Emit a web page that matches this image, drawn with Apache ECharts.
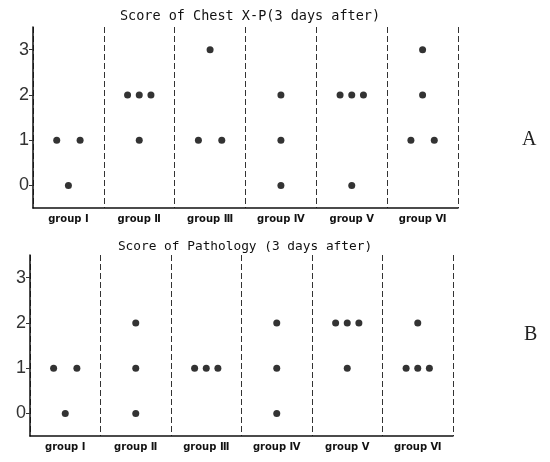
<!DOCTYPE html>
<html><head><meta charset="utf-8">
<script src="https://cdn.jsdelivr.net/npm/echarts@6/dist/echarts.min.js"></script>
<style>html,body{margin:0;padding:0;background:#fff}#c{width:550px;height:462px}</style>
</head><body><div id="c"></div>
<script>
const groups = ['group Ⅰ','group Ⅱ','group Ⅲ','group Ⅳ','group Ⅴ','group Ⅵ'];
const scoreTicks = [0, 1, 2, 3];
// scores of each animal, one array per group
const chestScores = [[1,1,0],[2,2,2,1],[3,1,1],[2,1,0],[2,2,2,0],[3,2,1,1]];
const pathologyScores = [[1,1,0],[2,1,0],[1,1,1],[2,1,0],[2,2,2,1],[2,1,1,1]];
const titles = ['Score of Chest X-P(3 days after)', 'Score of Pathology (3 days after)'];
const panelLetters = ['A', 'B'];

// dot-plot layout: points sharing a score are spread side by side in their group
function dots(scores) {
  const out = [];
  const slotW = 0.165;
  scores.forEach((vals, g) => {
    const counts = {};
    vals.forEach(v => counts[v] = (counts[v] || 0) + 1);
    const seen = {};
    vals.forEach(v => {
      const n = counts[v];
      const k = seen[v] = (seen[v] || 0) + 1;
      let slot = 0;
      if (n === 2) slot = k === 1 ? -1 : 1;
      else if (n >= 3) slot = k - (n + 1) / 2;
      out.push([g + 0.5 + slot * slotW, v]);
    });
  });
  return out;
}

const grids = [
  {left: 33, top: 27, width: 425, height: 181},
  {left: 30, top: 255, width: 423, height: 181}
];
const labelCenters = groups.map((_, i) => i + 0.5);

function xAxis(i) {
  return {
    type: 'value', gridIndex: i, min: 0, max: groups.length, interval: 1,
    axisLine: {show: true, onZero: false, lineStyle: {color: '#111', width: 1.5}},
    axisTick: {show: false},
    axisLabel: {
      show: true, customValues: labelCenters, margin: 6,
      formatter: v => groups[Math.round(v - 0.5)],
      fontFamily: 'DejaVu Sans', fontSize: 10, fontWeight: 'bold', color: '#111'
    },
    splitLine: {show: true, lineStyle: {type: [6, 3], color: '#333', width: 1}}
  };
}
function yAxis(i) {
  return {
    type: 'value', gridIndex: i, min: -0.5, max: 3.5,
    axisLine: {show: true, lineStyle: {color: '#111', width: 1.5}},
    axisTick: {show: true, customValues: scoreTicks, length: 4, lineStyle: {color: '#333'}},
    axisLabel: {show: true, customValues: scoreTicks, margin: 4,
      fontFamily: 'Liberation Sans', fontSize: 18, color: '#333'},
    splitLine: {show: false}
  };
}

const chart = echarts.init(document.getElementById('c'), null, {renderer: 'canvas'});
chart.setOption({
  animation: false,
  backgroundColor: '#fff',
  title: [
    {text: titles[0], left: 245, top: 4, textAlign: 'center',
     textStyle: {fontFamily: 'DejaVu Sans Mono', fontSize: 13.5, fontWeight: 'normal', color: '#111'}},
    {text: titles[1], left: 240, top: 235, textAlign: 'center',
     textStyle: {fontFamily: 'DejaVu Sans Mono', fontSize: 12.8, fontWeight: 'normal', color: '#111'}}
  ],
  grid: grids,
  xAxis: [xAxis(0), xAxis(1)],
  yAxis: [yAxis(0), yAxis(1)],
  series: [
    {type: 'scatter', xAxisIndex: 0, yAxisIndex: 0, data: dots(chestScores),
     symbolSize: 7, itemStyle: {color: '#000'}},
    {type: 'scatter', xAxisIndex: 1, yAxisIndex: 1, data: dots(pathologyScores),
     symbolSize: 7, itemStyle: {color: '#000'}}
  ],
  graphic: [
    {type: 'text', left: 522, top: 130, style: {text: panelLetters[0], font: '20px "Liberation Serif"', fill: '#222'}},
    {type: 'text', left: 524, top: 325, style: {text: panelLetters[1], font: '20px "Liberation Serif"', fill: '#222'}}
  ]
});
</script></body></html>
